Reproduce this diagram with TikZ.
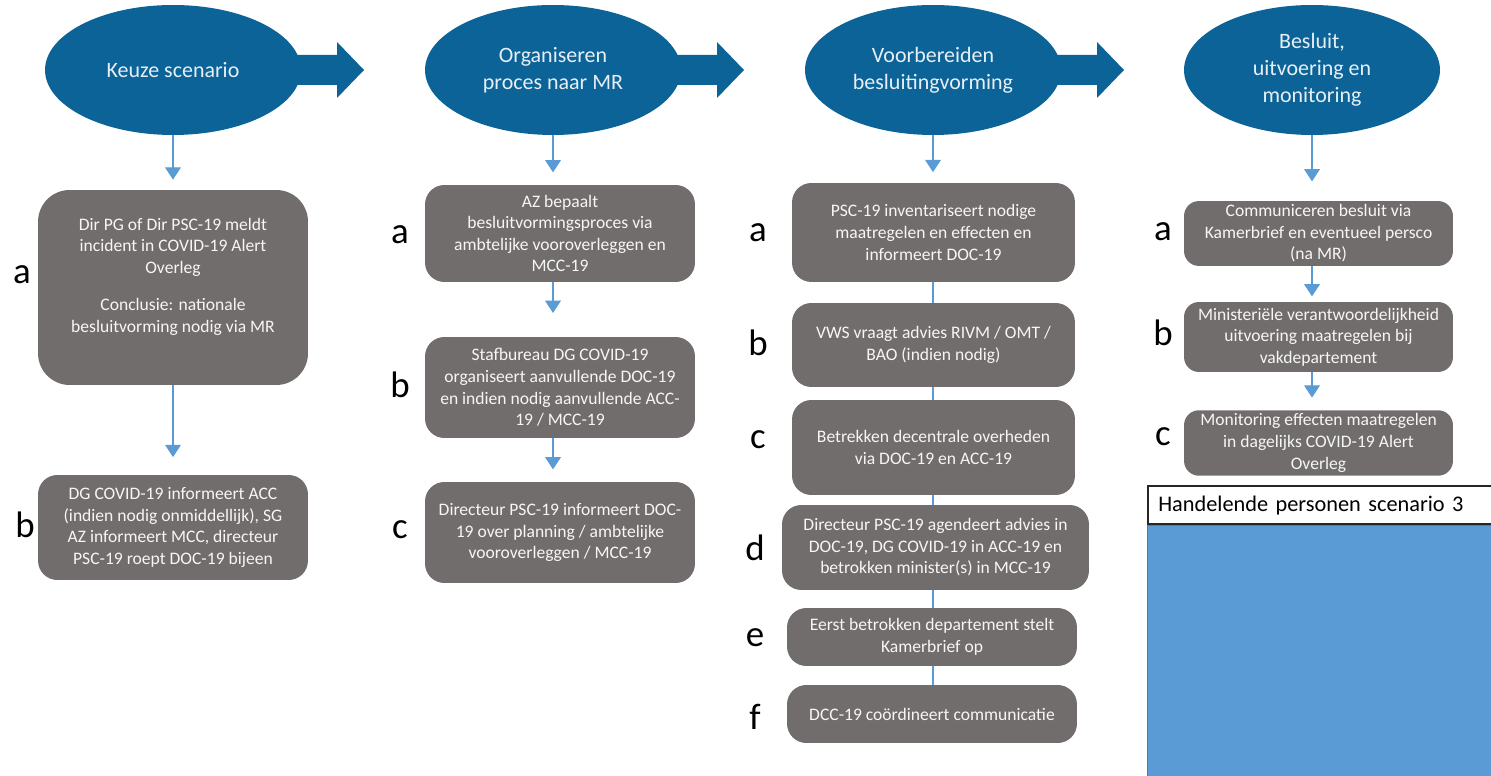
\documentclass[tikz,border=0pt]{standalone}
\usepackage{fontspec}
\setmainfont{Carlito}
\usetikzlibrary{shapes.geometric, arrows.meta, positioning, calc}
\definecolor{blauwD}{HTML}{0B6398}
\definecolor{blauwL}{HTML}{5B9BD5}
\definecolor{grijsB}{HTML}{716D6C}

\begin{document}
\begin{tikzpicture}[
  x=0.02cm, y=-0.02cm,
  fase/.style={
    ellipse, fill=blauwD, text=white!90!blauwD,
    font=\fontsize{12.5}{15.5}\selectfont,
    minimum width=5.12cm, minimum height=2.6cm,
    align=center, inner sep=0pt
  },
  stapbox/.style 2 args={
    fill=grijsB, text=white!94!grijsB,
    font=\fontsize{10}{12.3}\selectfont,
    minimum width=#1, minimum height=#2,
    align=center, rounded corners=11pt, inner sep=2pt
  },
  lbl/.style={font=\fontsize{21}{21}\selectfont, inner sep=0pt},
  arr/.style={-{Triangle[width=9pt, length=7pt]}, line width=0.6pt, blauwL},
  lijn/.style={line width=0.6pt, blauwL},
  blokpijl/.style={fill=blauwD}
]
\useasboundingbox (0,0) rectangle (1491,776);

%% ═══ FASEN ═══
\node[fase] (e1) at (173,70)  {Keuze scenario};
\node[fase] (e2) at (553,70)  {Organiseren\\proces naar MR};
\node[fase] (e3) at (933,70)  {Voorbereiden\\besluitingvorming};
\node[fase] (e4) at (1312,70) {Besluit,\\uitvoering en\\monitoring};

\foreach \e in {e1,e2,e3}
  \fill[blokpijl] ($(\e)+(100,-15)$) -- ++(64,0) -- ++(0,-13) -- ++(27,28)
    -- ++(-27,28) -- ++(0,-13) -- ++(-64,0) -- cycle;

%% ═══ KOLOM 1 — KEUZE SCENARIO ═══
\node[stapbox={5.4cm}{3.9cm}, rounded corners=18pt, text depth=14pt] (c1a) at (173,287.5)
  {Dir PG of Dir PSC-19 meldt\\incident in COVID-19 Alert\\Overleg\\[9pt]
   Conclusie: nationale\\besluitvorming nodig via MR};
\draw[arr, shorten >=5.7pt] (e1.south) -- (c1a.north);

\node[stapbox={5.4cm}{2.1cm}] (c1b) at (173,527.5)
  {DG COVID-19 informeert ACC\\(indien nodig onmiddellijk), SG\\AZ informeert MCC, directeur\\PSC-19 roept DOC-19 bijeen};
\draw[arr, shorten >=10pt] (c1a.south) -- (c1b.north);

\node[lbl] (l1a) at (22,275) {a};
\node[lbl] (l1b) at (25,525) {b};

%% ═══ KOLOM 2 — ORGANISEREN ═══
\node[stapbox={5.4cm}{1.94cm}] (c2a) at (560,233.5)
  {AZ bepaalt\\besluitvormingsproces via\\ambtelijke vooroverleggen en\\MCC-19};
\draw[arr, shorten >=7pt] (e2.south) -- (e2.south |- c2a.north);

\node[stapbox={5.4cm}{2.02cm}] (c2b) at (560,387.5)
  {Stafbureau DG COVID-19\\organiseert aanvullende DOC-19\\en indien nodig aanvullende ACC-\\19 / MCC-19};
\draw[arr, shorten >=13.5pt] (c2a.south -| e2) -- (c2b.north -| e2);

\node[stapbox={5.4cm}{2.02cm}] (c2c) at (560,532.5)
  {Directeur PSC-19 informeert DOC-\\19 over planning / ambtelijke\\vooroverleggen / MCC-19};
\draw[arr, shorten >=7pt] (c2b.south -| e2) -- (c2c.north -| e2);

\node[lbl] (l2a) at (400,235) {a};
\node[lbl] (l2b) at (400,385) {b};
\node[lbl] (l2c) at (400,530) {c};

%% ═══ KOLOM 3 — VOORBEREIDEN ═══
\node[stapbox={5.66cm}{1.98cm}] (c3a) at (933.5,232.5)
  {PSC-19 inventariseert nodige\\maatregelen en effecten en\\informeert DOC-19};
\draw[arr, shorten >=6pt] (e3.south) -- (e3.south |- c3a.north);

\node[stapbox={5.66cm}{1.68cm}] (c3b) at (933.5,345)
  {VWS vraagt advies RIVM / OMT /\\BAO (indien nodig)};
\node[stapbox={5.66cm}{1.9cm}] (c3c) at (933.5,447.5)
  {Betrekken decentrale overheden\\via DOC-19 en ACC-19};
\node[stapbox={6.14cm}{1.7cm}] (c3d) at (935.5,547.5)
  {Directeur PSC-19 agendeert advies in\\DOC-19, DG COVID-19 in ACC-19 en\\betrokken minister(s) in MCC-19};
\node[stapbox={5.8cm}{1.16cm}] (c3e) at (932,637)
  {Eerst betrokken departement stelt\\Kamerbrief op};
\node[stapbox={5.8cm}{1.16cm}] (c3f) at (932,714)
  {DCC-19 coördineert communicatie};

\foreach \a/\b in {c3a/c3b, c3b/c3c, c3c/c3d, c3d/c3e, c3e/c3f}
  \draw[lijn] (\a.south -| e3) -- (\b.north -| e3);

\node[lbl] (l3a) at (758,233) {a};
\node[lbl] (l3b) at (758,343) {b};
\node[lbl] (l3c) at (758,440) {c};
\node[lbl] (l3d) at (755,548) {d};
\node[lbl] (l3e) at (755,638) {e};
\node[lbl] (l3f) at (755,717) {f};

%% ═══ KOLOM 4 — BESLUIT ═══
\node[stapbox={5.38cm}{1.26cm}, rounded corners=8.5pt] (c4a) at (1318.5,233.5)
  {Communiceren besluit via\\Kamerbrief en eventueel persco\\(na MR)};
\draw[arr, shorten >=11pt] (e4.south) -- (e4.south |- c4a.north);

\node[stapbox={5.38cm}{1.4cm}, rounded corners=8.5pt] (c4b) at (1318.5,337)
  {Ministeriële verantwoordelijkheid\\uitvoering maatregelen bij\\vakdepartement};
\draw[arr, shorten >=3pt] (c4a.south -| e4) -- (c4b.north -| e4);

\node[stapbox={5.38cm}{1.24cm}, rounded corners=8.5pt] (c4c) at (1318.5,443)
  {Monitoring effecten maatregelen\\in dagelijks COVID-19 Alert\\Overleg};
\draw[arr, shorten >=7pt] (c4b.south -| e4) -- (c4c.north -| e4);

\node[lbl] (l4a) at (1163,232) {a};
\node[lbl] (l4b) at (1163,333) {b};
\node[lbl] (l4c) at (1163,437) {c};

%% ═══ HANDELENDE PERSONEN ═══
\node[fill=blauwL, draw=black!55, line width=0.6pt, anchor=north west,
  minimum width=6.88cm, minimum height=5.02cm, inner sep=0pt] (vlak) at (1147,525) {};
\node[fill=white, draw=black!85, line width=0.9pt, anchor=south west,
  minimum width=6.88cm, minimum height=0.76cm, inner xsep=6pt,
  text width=6.5cm, align=left, font=\fontsize{12.7}{15}\selectfont] (titel)
  at (vlak.north west) {Handelende personen scenario 3};

\end{tikzpicture}
\end{document}
